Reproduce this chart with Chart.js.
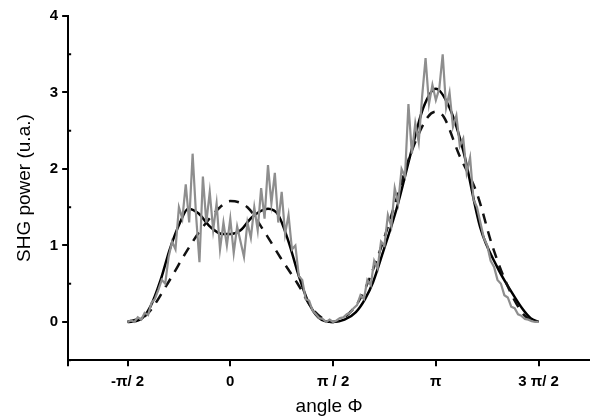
<!DOCTYPE html>
<html>
<head>
<meta charset="utf-8">
<script src="https://cdn.jsdelivr.net/npm/chart.js@4"></script>
<style>
  html, body { margin: 0; padding: 0; background: #fff; }
  #wrap { width: 590px; height: 418px; }
</style>
</head>
<body>
<div id="wrap"><canvas id="chart"></canvas></div>
<script>
// angle in degrees, measured data sampled every 3 degrees from -90
const dataStart = -90;
const dataStep = 3;
const measured = [
  0.0, 0.02, 0.0, 0.06, 0.03, 0.12, 0.09, 0.25, 0.3, 0.42,
  0.55, 0.5, 0.85, 1.05, 0.95, 1.5, 1.35, 1.8, 1.3, 2.2,
  1.4, 0.78, 1.9, 1.3, 1.7, 1.2, 1.55, 0.95, 1.3, 1.0,
  1.35, 0.9, 1.25, 1.05, 0.85, 1.3, 1.1, 1.5, 1.2, 1.75,
  1.35, 2.05, 1.55, 1.95, 1.3, 1.7, 1.15, 1.4, 0.95, 1.0,
  0.6, 0.55, 0.3, 0.28, 0.15, 0.1, 0.05, 0.04, 0.0, 0.03,
  0.0, 0.02, 0.05, 0.06, 0.1, 0.12, 0.18, 0.22, 0.35, 0.3,
  0.55, 0.48, 0.8, 0.7, 1.05, 1.0, 1.4, 1.25, 1.75, 1.55,
  2.0, 1.9, 2.85, 2.2, 2.6, 2.35, 2.95, 3.45, 2.85, 3.1,
  2.9, 3.05, 3.5, 2.8, 3.0, 2.55, 2.7, 2.3, 2.4, 1.95,
  2.15, 1.6, 1.5, 1.3, 1.1, 1.0, 0.8, 0.72, 0.55, 0.5,
  0.35, 0.32, 0.2, 0.18, 0.1, 0.08, 0.04, 0.03, 0.01, 0.0,
  0.0
];

// solid fit
const fitAngles = [-90, -79, -70, -61, -53, -44, -37, -28, -18, -7, 0, 9, 19, 33, 42, 51, 60, 68, 77, 90,
                   100, 110, 118, 125, 133, 146, 158, 169, 180, 192, 204, 219, 234, 241, 248, 256, 263, 270];
const fitValues = [0, 0.03, 0.2, 0.55, 0.95, 1.3, 1.48, 1.42, 1.25, 1.15, 1.15, 1.2, 1.37, 1.48, 1.4, 1.05, 0.6, 0.27, 0.06, 0,
                   0.03, 0.13, 0.3, 0.52, 0.88, 1.5, 2.2, 2.8, 3.05, 2.8, 2.24, 1.23, 0.71, 0.52, 0.35, 0.17, 0.05, 0];

// dashed fit
const dashAngles = [-90, -73, -55, -38, -26, -9, 0, 15, 29, 44, 59, 73, 90,
                    100, 114, 131, 146, 158, 173, 180, 187, 200, 216, 230, 245, 258, 270];
const dashValues = [0, 0.1, 0.5, 0.93, 1.2, 1.5, 1.58, 1.5, 1.2, 0.84, 0.5, 0.15, 0,
                    0.06, 0.31, 0.93, 1.63, 2.2, 2.68, 2.75, 2.68, 2.2, 1.68, 0.97, 0.4, 0.08, 0];

const xTicks = [-90, 0, 90, 180, 270];
const xLabels = ['-\u03c0/ 2', '0', '\u03c0 / 2', '\u03c0', '3 \u03c0/ 2'];
const yTicks = [0, 1, 2, 3, 4];
const yMinorTicks = [-0.5, 0.5, 1.5, 2.5, 3.5];

const measuredPts = measured.map((v, i) => ({ x: dataStart + i * dataStep, y: v }));
const fitPts = fitAngles.map((a, i) => ({ x: a, y: fitValues[i] }));
const dashPts = dashAngles.map((a, i) => ({ x: a, y: dashValues[i] }));

// small inward minor ticks on the y axis
const minorTicks = {
  id: 'minorTicks',
  afterDraw(chart) {
    const ctx = chart.ctx;
    const y = chart.scales.y;
    const left = chart.chartArea.left;
    ctx.save();
    ctx.strokeStyle = '#000';
    ctx.lineWidth = 2;
    yMinorTicks.forEach(v => {
      const py = y.getPixelForValue(v);
      ctx.beginPath();
      ctx.moveTo(left - 1, py);
      ctx.lineTo(left + 3, py);
      ctx.stroke();
    });
    ctx.restore();
  }
};

const tickFont = { family: 'Liberation Sans, Arial, sans-serif', size: 15, weight: 'bold' };
const titleFont = { family: 'Liberation Sans, Arial, sans-serif', size: 19 };

new Chart(document.getElementById('chart'), {
  type: 'line',
  data: {
    datasets: [
      {
        label: 'measured',
        data: measuredPts,
        borderColor: '#8e8e8e',
        borderWidth: 2.2,
        pointRadius: 0,
        tension: 0
      },
      {
        label: 'fit 1',
        data: dashPts,
        borderColor: '#111',
        borderWidth: 2.5,
        borderDash: [10, 8],
        pointRadius: 0,
        cubicInterpolationMode: 'monotone'
      },
      {
        label: 'fit 2',
        data: fitPts,
        borderColor: '#000',
        borderWidth: 2.5,
        pointRadius: 0,
        cubicInterpolationMode: 'monotone'
      }
    ]
  },
  options: {
    responsive: true,
    maintainAspectRatio: false,
    animation: false,
    layout: { padding: { top: 16, right: 0, left: 13, bottom: 0 } },
    plugins: { legend: { display: false }, tooltip: { enabled: false } },
    scales: {
      x: {
        type: 'linear',
        min: -142,
        max: 315,
        afterBuildTicks: s => { s.ticks = [-142].concat(xTicks).map(v => ({ value: v })); },
        ticks: {
          color: '#000',
          font: tickFont,
          padding: 7,
          maxRotation: 0,
          autoSkip: false,
          callback: v => {
            const i = xTicks.indexOf(v);
            return i >= 0 ? xLabels[i] : '';
          }
        },
        grid: { drawOnChartArea: false, color: '#000', lineWidth: 2, tickLength: 6 },
        border: { color: '#000', width: 2 },
        title: { display: true, text: 'angle \u03a6', color: '#000', font: titleFont, padding: { top: -3, bottom: 0 } }
      },
      y: {
        min: -0.5,
        max: 4,
        afterBuildTicks: s => { s.ticks = yTicks.map(v => ({ value: v })); },
        ticks: { color: '#000', font: tickFont, padding: 4 },
        grid: { drawOnChartArea: false, color: '#000', lineWidth: 2, tickLength: 6 },
        border: { color: '#000', width: 2 },
        title: { display: true, text: 'SHG power (u.a.)', color: '#000', font: titleFont, padding: { top: 0, bottom: 10 } }
      }
    }
  },
  plugins: [minorTicks]
});
</script>
</body>
</html>
